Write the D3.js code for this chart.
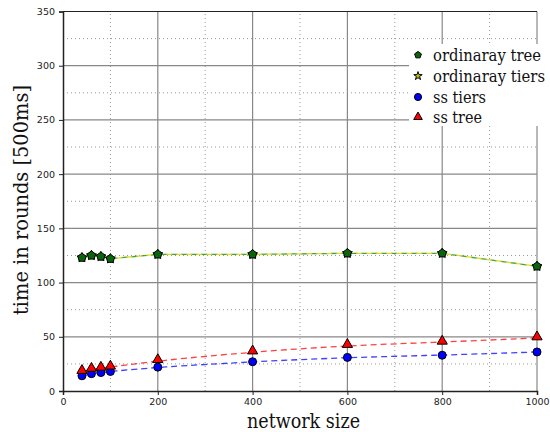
<!DOCTYPE html>
<html>
<head>
<meta charset="utf-8">
<script src="https://cdn.jsdelivr.net/npm/d3@7"></script>
<style>
  html, body { margin: 0; padding: 0; background: #fff; }
  svg { display: block; }
</style>
</head>
<body>
<svg id="chart" width="550" height="432"></svg>
<script>
// network sizes on the x axis
const sizes = [40, 60, 80, 100, 200, 400, 600, 800, 1000];
// rounds until completion, per protocol variant
const ordinaryTree  = [123, 125, 124, 122, 126, 126, 127, 127, 115];
const ordinaryTiers = [123, 125, 124, 122, 126, 126, 127, 127, 115];
const ssTiers       = [14, 16, 17, 18, 22, 27, 31, 33, 36];
const ssTree        = [18, 20, 21, 22, 28, 36, 42, 45, 49];

const xTicks = [0, 200, 400, 600, 800, 1000];
const yTicks = [0, 50, 100, 150, 200, 250, 300, 350];
const xMinor = [100, 300, 500, 700, 900];
const yMinor = [25, 75, 125, 175, 225, 275, 325];

const serif = "'DejaVu Serif', serif";
const serifNarrow = "'DejaVu Serif Condensed', 'DejaVu Serif', serif";
const svg = d3.select("#chart");
const x = d3.scaleLinear().domain([0, 1000]).range([63, 537]);
const y = d3.scaleLinear().domain([0, 350]).range([391, 11.5]);

// minor dotted grid
const grid = svg.append("g");
grid.selectAll(".vminor").data(xMinor).join("line")
  .attr("x1", d => x(d)).attr("x2", d => x(d))
  .attr("y1", y(0)).attr("y2", y(350))
  .attr("stroke", "#999").attr("stroke-width", 1).attr("stroke-dasharray", "1,3");
grid.selectAll(".hminor").data(yMinor).join("line")
  .attr("x1", x(0)).attr("x2", x(1000))
  .attr("y1", d => y(d)).attr("y2", d => y(d))
  .attr("stroke", "#999").attr("stroke-width", 1).attr("stroke-dasharray", "1,3");
// major solid grid
grid.selectAll(".vmajor").data(xTicks.slice(1)).join("line")
  .attr("x1", d => x(d)).attr("x2", d => x(d))
  .attr("y1", y(0)).attr("y2", y(350))
  .attr("stroke", "#888").attr("stroke-width", 1.2);
grid.selectAll(".hmajor").data(yTicks.slice(1, -1)).join("line")
  .attr("x1", x(0)).attr("x2", x(1000))
  .attr("y1", d => y(d)).attr("y2", d => y(d))
  .attr("stroke", "#888").attr("stroke-width", 1.2);

// frame
svg.append("line").attr("x1", x(0)).attr("x2", x(1000)).attr("y1", y(350)).attr("y2", y(350))
  .attr("stroke", "#222").attr("stroke-width", 1.2);

// axes
const xAxis = svg.append("g").attr("transform", `translate(0,${y(0)})`)
  .call(d3.axisBottom(x).tickValues(xTicks).tickSize(4).tickPadding(3).tickFormat(d3.format("d")));
const yAxis = svg.append("g").attr("transform", `translate(${x(0)},0)`)
  .call(d3.axisLeft(y).tickValues(yTicks).tickSize(4).tickPadding(4).tickFormat(d3.format("d")));
[xAxis, yAxis].forEach(a => {
  a.select(".domain").attr("stroke", "#222").attr("stroke-width", 1.5);
  a.selectAll(".tick line").attr("stroke", "#222");
  a.selectAll("text").attr("font-family", "DejaVu Sans").attr("font-size", 9.5).attr("fill", "#222");
});

// axis titles
svg.append("text").attr("x", 247).attr("y", 428)
  .style("font-family", serif).attr("font-size", 20).attr("fill", "#111")
  .attr("textLength", 113).attr("lengthAdjust", "spacingAndGlyphs")
  .text("network size");
svg.append("text").attr("transform", "translate(28,315) rotate(-90)")
  .style("font-family", serif).attr("font-size", 20).attr("fill", "#111")
  .attr("textLength", 230).attr("lengthAdjust", "spacingAndGlyphs")
  .text("time in rounds [500ms]");

// series lines
const lin = d3.line().x((d, i) => x(sizes[i])).y(d => y(d));
const smooth = d3.line().x((d, i) => x(sizes[i])).y(d => y(d)).curve(d3.curveBasis);
const lines = svg.append("g").attr("fill", "none").attr("stroke-width", 1.3).attr("stroke-dasharray", "6,4");
lines.append("path").attr("d", lin(ordinaryTree)).attr("stroke", "#2a9a2a").attr("opacity", 0.9);
lines.append("path").attr("d", lin(ordinaryTiers)).attr("stroke", "#d6d600").attr("opacity", 0.85)
  .attr("stroke-dashoffset", 5);
lines.append("path").attr("d", smooth(ssTiers)).attr("stroke", "#0000ff").attr("opacity", 0.75);
lines.append("path").attr("d", smooth(ssTree)).attr("stroke", "#ff0000").attr("opacity", 0.75);

// markers
const markers = svg.append("g").attr("stroke", "#000").attr("stroke-width", 1);
const pentagon = {
  draw(ctx, size) {
    const r = Math.sqrt(size / 2.38);
    for (let k = 0; k < 5; k++) {
      const a = -Math.PI / 2 + k * 2 * Math.PI / 5;
      k ? ctx.lineTo(r * Math.cos(a), r * Math.sin(a)) : ctx.moveTo(r * Math.cos(a), r * Math.sin(a));
    }
    ctx.closePath();
  }
};
const star = d3.symbol().type(d3.symbolStar).size(30);
const pent = d3.symbol().type(pentagon).size(48);
const tri = d3.symbol().type(d3.symbolTriangle).size(45);
const circ = d3.symbol().type(d3.symbolCircle).size(50);

markers.selectAll(".st").data(ordinaryTiers).join("path")
  .attr("transform", (d, i) => `translate(${x(sizes[i])},${y(d)})`).attr("d", star).attr("fill", "#bfbf00");
markers.selectAll(".pt").data(ordinaryTree).join("path")
  .attr("transform", (d, i) => `translate(${x(sizes[i])},${y(d)})`).attr("d", pent).attr("fill", "#0a640a");
markers.selectAll(".ci").data(ssTiers).join("path")
  .attr("transform", (d, i) => `translate(${x(sizes[i])},${y(d)})`).attr("d", circ).attr("fill", "#0000ff");
markers.selectAll(".tr").data(ssTree).join("path")
  .attr("transform", (d, i) => `translate(${x(sizes[i])},${y(d) - 1})`).attr("d", tri).attr("fill", "#ff0000");

// legend
const legend = svg.append("g");
legend.append("rect").attr("x", 409).attr("y", 44).attr("width", 141).attr("height", 82).attr("fill", "#fff");
const entries = [
  { label: "ordinaray tree", w: 108, sym: d3.symbol().type(pentagon).size(30), fill: "#0a640a" },
  { label: "ordinaray tiers", w: 112, sym: d3.symbol().type(d3.symbolStar).size(22), fill: "#bfbf00" },
  { label: "ss tiers", w: 53, sym: d3.symbol().type(d3.symbolCircle).size(40), fill: "#0000ff" },
  { label: "ss tree", w: 49, sym: d3.symbol().type(d3.symbolTriangle).size(32), fill: "#ff0000" }
];
const rowY = [55, 76, 97, 117];
entries.forEach((e, i) => {
  legend.append("path").attr("transform", `translate(418,${rowY[i]})`)
    .attr("d", e.sym).attr("fill", e.fill).attr("stroke", "#000").attr("stroke-width", 1);
  legend.append("text").attr("x", 433).attr("y", rowY[i] + 5.5)
    .style("font-family", serifNarrow).attr("font-size", 17).attr("fill", "#111")
    .attr("textLength", e.w).attr("lengthAdjust", "spacingAndGlyphs")
    .text(e.label);
});
</script>
</body>
</html>
